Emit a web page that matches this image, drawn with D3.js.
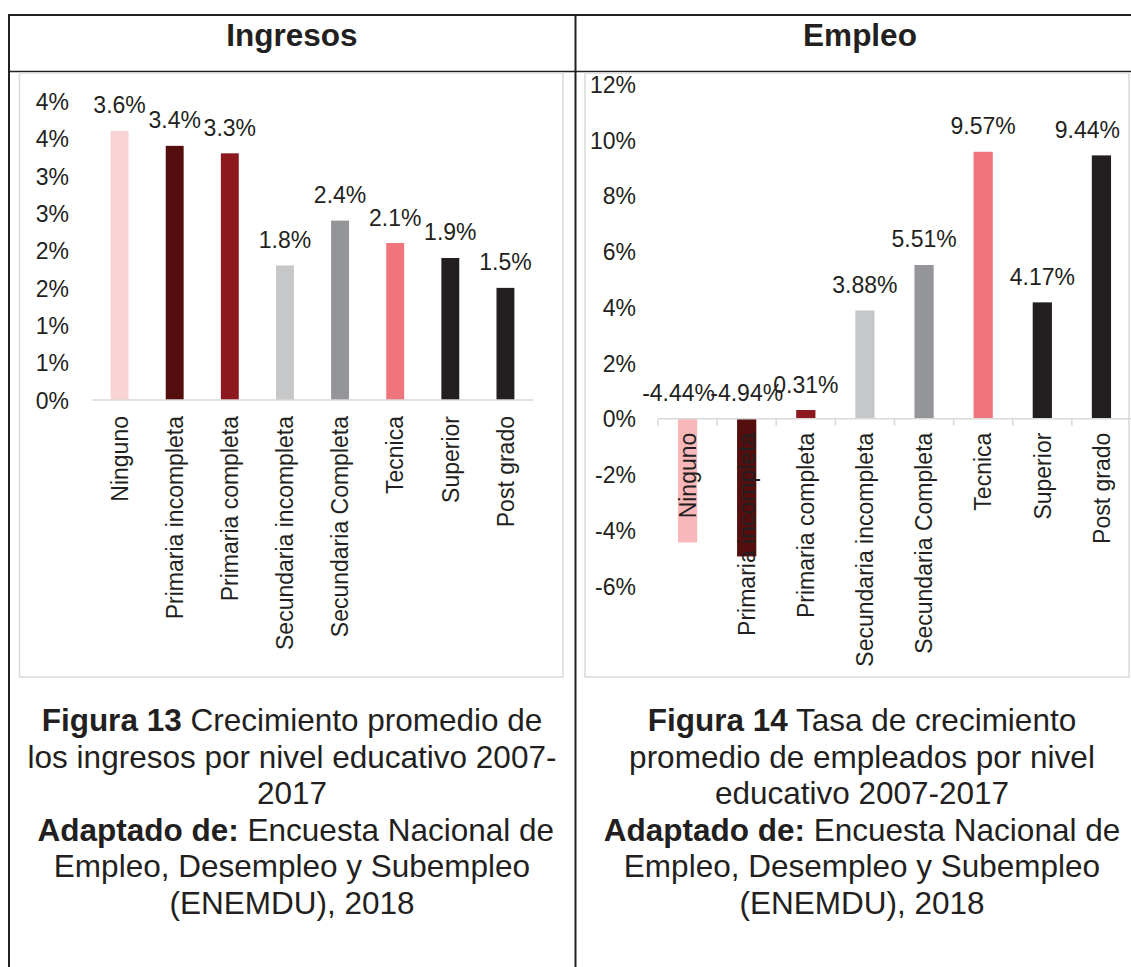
<!DOCTYPE html>
<html>
<head>
<meta charset="utf-8">
<script src="https://cdn.jsdelivr.net/npm/d3@7"></script>
<style>
  html, body { margin: 0; padding: 0; background: #ffffff; }
  svg { display: block; font-family: "Liberation Sans", Arial, Helvetica, sans-serif; }
</style>
</head>
<body>
<svg id="fig" width="1131" height="967"></svg>
<script>
// Education levels shared by both panels
const categories = ["Ninguno", "Primaria incompleta", "Primaria completa", "Secundaria incompleta",
                    "Secundaria Completa", "Tecnica", "Superior", "Post grado"];

// Average income growth 2007-2017 (%)
const ingresosValues = [3.6, 3.4, 3.3, 1.8, 2.4, 2.1, 1.9, 1.5];
// Average employment growth rate 2007-2017 (%)
const empleoValues = [-4.44, -4.94, 0.31, 3.88, 5.51, 9.57, 4.17, 9.44];

const ingresosColors = ["#f9d3d4", "#530e0d", "#8d181d", "#c6c7c9", "#939598", "#f0747b", "#231f20", "#231f20"];
const empleoColors   = ["#f8b8ba", "#530e0d", "#8d181d", "#c6c7c9", "#939598", "#f0747b", "#231f20", "#231f20"];

const ingresosTicks = [0, 0.5, 1, 1.5, 2, 2.5, 3, 3.5, 4];
const ingresosTickLabels = ["0%", "1%", "1%", "2%", "2%", "3%", "3%", "4%", "4%"];
const empleoTicks = [-6, -4, -2, 0, 2, 4, 6, 8, 10, 12];
const empleoTickLabels = ["-6%", "-4%", "-2%", "0%", "2%", "4%", "6%", "8%", "10%", "12%"];

const headers = ["Ingresos", "Empleo"];
const captionLeft = [
  [["Figura 13", true], [" Crecimiento promedio de", false]],
  [["los ingresos por nivel educativo 2007-", false]],
  [["2017", false]],
  [[" Adaptado de:", true], [" Encuesta Nacional de", false]],
  [["Empleo, Desempleo y Subempleo", false]],
  [["(ENEMDU), 2018", false]]
];
const captionRight = [
  [["Figura 14", true], [" Tasa de crecimiento", false]],
  [["promedio de empleados por nivel", false]],
  [["educativo 2007-2017", false]],
  [["Adaptado de:", true], [" Encuesta Nacional de", false]],
  [["Empleo, Desempleo y Subempleo", false]],
  [["(ENEMDU), 2018", false]]
];

const ink = "#231f20";
const frame = "#d9d9d9";
const svg = d3.select("#fig");

svg.append("rect").attr("width", 1131).attr("height", 967).attr("fill", "#fff");

// ---- table frame ----
const table = svg.append("g").attr("stroke", ink).attr("fill", "none");
table.append("line").attr("x1", 8).attr("x2", 1131).attr("y1", 15).attr("y2", 15).attr("stroke-width", 2);
table.append("line").attr("x1", 8).attr("x2", 1131).attr("y1", 71.5).attr("y2", 71.5).attr("stroke-width", 1.5);
table.append("line").attr("x1", 9).attr("x2", 9).attr("y1", 14).attr("y2", 967).attr("stroke-width", 2);
table.append("line").attr("x1", 575.5).attr("x2", 575.5).attr("y1", 14).attr("y2", 967).attr("stroke-width", 2);

// ---- header row ----
[292, 860].forEach((cx, i) => {
  svg.append("text")
    .attr("x", cx).attr("y", 46)
    .attr("text-anchor", "middle")
    .attr("font-size", 31.5).attr("font-weight", "bold")
    .attr("fill", ink)
    .text(headers[i]);
});

// ---- chart panels ----
function drawPanel(opt) {
  const g = svg.append("g");

  g.append("rect")
    .attr("x", opt.box[0]).attr("y", opt.box[1])
    .attr("width", opt.box[2]).attr("height", opt.box[3])
    .attr("fill", "#fff").attr("stroke", frame).attr("stroke-width", 1.5);

  const x = d3.scaleBand().domain(categories).range(opt.xRange).padding(0);
  const y = d3.scaleLinear().domain(opt.yDomain).range(opt.yRange);
  const barW = x.bandwidth() * 0.325;

  // value axis
  const yAxis = d3.axisLeft(y)
    .tickValues(opt.ticks)
    .tickSize(0).tickPadding(0)
    .tickFormat((d, i) => opt.tickLabels[i]);
  const ya = g.append("g").attr("transform", `translate(${opt.yLabelX},0)`).call(yAxis);
  ya.select(".domain").remove();
  ya.selectAll("text")
    .attr("font-size", 23).attr("fill", ink)
    .attr("font-family", "Liberation Sans, Arial, sans-serif")
    .attr("dy", "0.36em");

  // bars
  g.selectAll("rect.bar")
    .data(opt.values)
    .join("rect")
    .attr("class", "bar")
    .attr("x", (d, i) => x(categories[i]) + (x.bandwidth() - barW) / 2)
    .attr("y", d => y(Math.max(d, 0)))
    .attr("width", barW)
    .attr("height", d => Math.abs(y(d) - y(0)))
    .attr("fill", (d, i) => opt.colors[i]);

  // category axis line
  g.append("line")
    .attr("x1", opt.xRange[0]).attr("x2", opt.xRange[1])
    .attr("y1", y(0)).attr("y2", y(0))
    .attr("stroke", frame).attr("stroke-width", 1.5);

  if (opt.tickMarks) {
    g.selectAll("line.tick-mark")
      .data(categories)
      .join("line")
      .attr("class", "tick-mark")
      .attr("x1", d => x(d)).attr("x2", d => x(d))
      .attr("y1", y(0)).attr("y2", y(0) + 7)
      .attr("stroke", frame).attr("stroke-width", 1.5);
  }

  // category labels, rotated
  const xAxis = d3.axisBottom(x).tickSize(0);
  const xa = g.append("g").attr("transform", `translate(0,${y(0)})`).call(xAxis);
  xa.select(".domain").remove();
  xa.selectAll("text")
    .attr("font-size", 23).attr("fill", ink)
    .attr("font-family", "Liberation Sans, Arial, sans-serif")
    .attr("transform", "rotate(-90)")
    .attr("x", -opt.labelGap).attr("y", 0)
    .attr("dy", "0.36em")
    .attr("text-anchor", "end");

  // data labels (kept inside the plot frame on the right)
  const rightLimit = opt.box[0] + opt.box[2] - 9;
  g.selectAll("text.value")
    .data(opt.values)
    .join("text")
    .attr("class", "value")
    .attr("x", (d, i) => x(categories[i]) + x.bandwidth() / 2 + (opt.labelDx ? opt.labelDx[i] : 0))
    .attr("y", d => y(Math.max(d, 0)) - 17.5)
    .attr("text-anchor", "middle")
    .attr("font-size", 23).attr("fill", ink)
    .text(d => d.toFixed(opt.decimals) + "%")
    .each(function () {
      const bb = this.getBBox();
      const over = bb.x + bb.width - rightLimit;
      if (over > 0) d3.select(this).attr("x", +d3.select(this).attr("x") - over);
    });
}

drawPanel({
  box: [19.5, 73, 543.5, 604],
  xRange: [92, 533],
  yDomain: [0, 4], yRange: [400, 101],
  ticks: ingresosTicks, tickLabels: ingresosTickLabels,
  yLabelX: 69,
  values: ingresosValues, colors: ingresosColors,
  decimals: 1, tickMarks: false, labelGap: 16
});

drawPanel({
  box: [585, 73, 544, 604],
  xRange: [658, 1131],
  yDomain: [-6, 12], yRange: [586, 84],
  ticks: empleoTicks, tickLabels: empleoTickLabels,
  yLabelX: 636,
  values: empleoValues, colors: empleoColors,
  decimals: 2, tickMarks: true, labelGap: 14,
  labelDx: [-9, 0, 0, 0, 0, 0, 0, 0]
});

// ---- captions ----
function drawCaption(lines, cx) {
  const t = svg.append("text")
    .attr("text-anchor", "middle")
    .attr("font-size", 31.5).attr("fill", ink);
  lines.forEach((parts, li) => {
    parts.forEach((p, pi) => {
      const s = t.append("tspan")
        .attr("font-weight", p[1] ? "bold" : "normal")
        .style("white-space", "pre")
        .text(p[0]);
      if (pi === 0) s.attr("x", cx).attr("y", 731 + li * 36.6);
    });
  });
}
drawCaption(captionLeft, 292);
drawCaption(captionRight, 862);
</script>
</body>
</html>
